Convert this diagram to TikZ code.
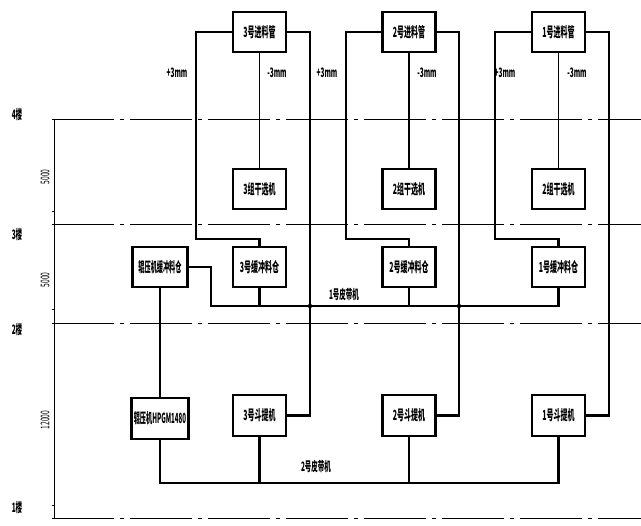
\documentclass[tikz,border=0pt]{standalone}
\usepackage{fontspec}
\newfontfamily\cjk{Noto Sans CJK SC}
\usetikzlibrary{calc}
\newcommand{\cn}[1]{\scalebox{0.5}[1]{\cjk\bfseries #1}}
\newcommand{\cnn}[1]{\scalebox{0.44}[1]{\cjk\bfseries #1}}
\tikzset{
  box/.style={draw, line width=2.6pt, minimum width=53pt, minimum height=40pt, inner sep=0pt, font=\fontsize{14}{14}\selectfont},
  conn/.style={line width=2.6pt},
  thinconn/.style={line width=1.8pt},
  floorline/.style={line width=0.8pt, dash pattern=on 62pt off 6pt on 4pt off 6pt},
  dim/.style={line width=0.8pt},
  lbl/.style={inner sep=0pt, font=\fontsize{13}{13}\selectfont},
  dimtxt/.style={inner sep=0pt, rotate=90, font=\fontsize{12}{12}\selectfont},
}
\begin{document}
\begin{tikzpicture}[x=1pt,y=-1pt]
\useasboundingbox (0,0) rectangle (641,526);
% floor lines
\foreach \yy/\nm in {119/l4,224/l3,323/l2,518/l1}{
  \coordinate (\nm a) at (52,\yy);
  \coordinate (\nm b) at (641,\yy);
  \draw[floorline] (\nm a) -- (\nm b);
}
\coordinate (dtop) at (54,119);
\coordinate (dbot) at (54,518);
\draw[dim] (dtop) -- (dbot);
\foreach \yy in {211,309,505}{ \draw[dim] (52,\yy) -- (54,\yy); }
% floor labels
\node[lbl] (t4) at (17,115) {\cn{4楼}};
\node[lbl] (t3) at (17,235) {\cn{3楼}};
\node[lbl] (t2) at (17,330) {\cn{2楼}};
\node[lbl] (t1) at (17,508) {\cn{1楼}};
\node[dimtxt] (d1) at (45,177) {\scalebox{0.55}[1]{\cjk 5000}};
\node[dimtxt] (d2) at (45,280) {\scalebox{0.55}[1]{\cjk 5000}};
\node[dimtxt] (d3) at (45,420) {\scalebox{0.55}[1]{\cjk 12000}};

% columns
\node[box] (f3) at (259.5,32) {\cn{3号进料管}};
\node[box] (g3) at (259.5,189) {\cn{3组干选机}};
\node[box] (b3) at (259.5,267) {\cn{3号缓冲料仓}};
\node[box, minimum height=41pt] (e3) at (259.5,415.5) {\cn{3号斗提机}};

\node[box] (f2) at (409,32) {\cn{2号进料管}};
\node[box] (g2) at (409,189) {\cn{2组干选机}};
\node[box] (b2) at (409,267) {\cn{2号缓冲料仓}};
\node[box, minimum height=41pt] (e2) at (409,415.5) {\cn{2号斗提机}};

\node[box] (f1) at (558.5,32) {\cn{1号进料管}};
\node[box] (g1) at (558.5,189) {\cn{2组干选机}};
\node[box] (b1) at (558.5,267) {\cn{1号缓冲料仓}};
\node[box, minimum height=41pt] (e1) at (558.5,415.5) {\cn{1号斗提机}};

\node[box, minimum width=55pt] (rb) at (160,267) {\cnn{辊压机缓冲料仓}};
\node[box, minimum width=57pt, minimum height=41pt] (hp) at (160,418.5) {\cnn{辊压机HPGM1480}};

% +3mm / -3mm
\node[lbl] (p3) at (177,73) {\cn{+3mm}};
\node[lbl] (m3) at (277,73) {\cn{-3mm}};
\node[lbl] (p2) at (327,73) {\cn{+3mm}};
\node[lbl] (m2) at (427,73) {\cn{-3mm}};
\node[lbl] (p1) at (505,73) {\cn{+3mm}};
\node[lbl] (m1) at (577,73) {\cn{-3mm}};

% corner coordinates
\coordinate (l3) at (196,239);
\coordinate (l2) at (346,239);
\coordinate (l1) at (495,239);
\coordinate (r3) at (310,415.5);
\coordinate (r2) at (459,415.5);
\coordinate (r1) at (609,415.5);
\coordinate (belt1s) at (211,306);
\coordinate (belt1e) at (558.5,306);
\coordinate (belt2s) at (160,483);
\coordinate (belt2e) at (558.5,483);

% loops
\draw[conn] (f3.west) -| (l3) -| (b3.north);
\draw[conn] (f2.west) -| (l2) -| (b2.north);
\draw[conn] (f1.west) -| (l1) -| (b1.north);
\draw[conn] (f3.east) -| (r3) -- (e3.east);
\draw[conn] (f2.east) -| (r2) -- (e2.east);
\draw[conn] (f1.east) -| (r1) -- (e1.east);
\draw[thinconn] (f3.south) -- (g3.north);
\draw[thinconn] (f2.south) -- (g2.north);
\draw[thinconn] (f1.south) -- (g1.north);

% belt 1
\draw[conn] (rb.east) -| (belt1s) -- (belt1e) -- (b1.south);
\draw[conn] (b3.south) -- (b3.south |- belt1s);
\draw[conn] (b2.south) -- (b2.south |- belt1s);
\fill (310,306) circle (2.2pt);
\fill (459,306) circle (2.2pt);
\node[lbl] (belt1lbl) at (344,295) {\cn{1号皮带机}};

% roller press
\draw[conn] (rb.south) -- (hp.north);
\draw[conn] (hp.south) -- (belt2s) -- (belt2e) -- (e1.south);
\draw[conn] (e3.south) -- (e3.south |- belt2s);
\draw[conn] (e2.south) -- (e2.south |- belt2s);
\node[lbl] (belt2lbl) at (316,467) {\cn{2号皮带机}};
\end{tikzpicture}
\end{document}
